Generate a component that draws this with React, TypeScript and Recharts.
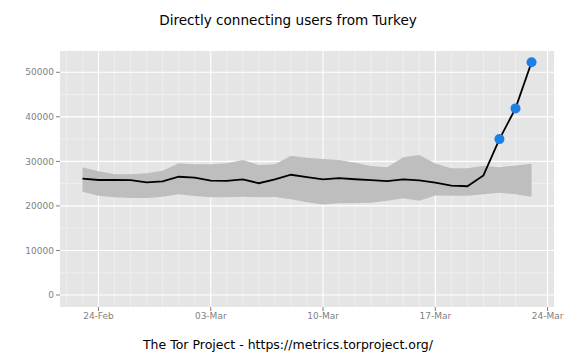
import { Area, CartesianGrid, ComposedChart, Line, XAxis, YAxis } from 'recharts';

// one entry per day, 23-Feb .. 23-Mar
const days = [
  '23-Feb', '24-Feb', '25-Feb', '26-Feb', '27-Feb', '28-Feb', '01-Mar', '02-Mar',
  '03-Mar', '04-Mar', '05-Mar', '06-Mar', '07-Mar', '08-Mar', '09-Mar', '10-Mar',
  '11-Mar', '12-Mar', '13-Mar', '14-Mar', '15-Mar', '16-Mar', '17-Mar', '18-Mar',
  '19-Mar', '20-Mar', '21-Mar', '22-Mar', '23-Mar',
];

const users = [
  26150, 25820, 25850, 25800, 25300, 25530, 26550, 26350,
  25660, 25620, 25950, 25100, 25950, 27000, 26450, 25970,
  26250, 25990, 25800, 25550, 25980, 25750, 25250, 24540,
  24420, 26850, 35000, 41900, 52250,
];

const lower = [
  23200, 22300, 21940, 21780, 21780, 22070, 22610, 22230,
  21940, 21940, 22070, 21940, 22000, 21490, 20800, 20300,
  20580, 20580, 20730, 21170, 21710, 21170, 22350, 22300,
  22300, 22600, 22970, 22600, 22070,
];

const upper = [
  28700, 27770, 27100, 27100, 27320, 27910, 29570, 29340,
  29340, 29570, 30300, 29190, 29340, 31280, 30830, 30530,
  30310, 29710, 28960, 28670, 30910, 31430, 29500, 28440,
  28440, 29000, 28700, 29100, 29450,
];

// days flagged as unusual
const flagged = ['21-Mar', '22-Mar', '23-Mar'];

const xTickLabels = ['24-Feb', '03-Mar', '10-Mar', '17-Mar', '24-Mar'];
const yTicks = [0, 10000, 20000, 30000, 40000, 50000];
const yMinor = [5000, 15000, 25000, 35000, 45000];

const data = days.map((d, i) => ({
  day: i,
  users: users[i],
  range: [lower[i], upper[i]],
  spike: flagged.includes(d) ? users[i] : null,
}));

// tick positions are day offsets from 23-Feb
const xTicks = xTickLabels.map((_, i) => 1 + i * 7);
const xMinor = Array.from({ length: 31 }, (_, i) => i - 1);

const font = '"DejaVu Sans", sans-serif';
const tickStyle = { fill: '#7f7f7f', fontSize: 9, fontFamily: font };

export default function App() {
  return (
    <div style={{ position: 'absolute', left: 0, top: 0, width: 576, height: 360, background: '#fff', fontFamily: font }}>
      <div style={{ position: 'absolute', top: 12, width: 576, textAlign: 'center', fontSize: 13.6, color: '#000' }}>
        Directly connecting users from Turkey
      </div>
      <ComposedChart width={576} height={360} data={data} margin={{ top: 51, right: 22, bottom: 28, left: 0 }}>
        <CartesianGrid
          fill="#e5e5e5"
          stroke="#f2f2f2"
          strokeWidth={0.7}
          horizontalValues={yMinor}
          verticalValues={xMinor}
        />
        <CartesianGrid stroke="#ffffff" strokeWidth={1.1} horizontalValues={yTicks} verticalValues={xTicks} />
        <XAxis
          dataKey="day"
          type="number"
          domain={[-1.4, 29.4]}
          ticks={xTicks}
          tickFormatter={(v: number) => xTickLabels[(v - 1) / 7]}
          allowDataOverflow
          height={25}
          axisLine={false}
          tickSize={4}
          tickMargin={2}
          tickLine={{ stroke: '#7f7f7f' }}
          tick={tickStyle}
        />
        <YAxis
          type="number"
          domain={[-2695, 54783]}
          ticks={yTicks}
          allowDataOverflow
          width={60}
          axisLine={false}
          tickSize={4}
          tickMargin={2}
          tickLine={{ stroke: '#7f7f7f' }}
          tick={tickStyle}
        />
        <Area
          type="linear"
          dataKey="range"
          fill="#bebebe"
          fillOpacity={1}
          stroke="none"
          isAnimationActive={false}
        />
        <Line
          dataKey="spike"
          stroke="none"
          dot={{ r: 5, fill: '#1e80e3', stroke: 'none' }}
          activeDot={false}
          isAnimationActive={false}
        />
        <Line
          type="linear"
          dataKey="users"
          stroke="#000"
          strokeWidth={1.8}
          dot={false}
          activeDot={false}
          isAnimationActive={false}
        />
      </ComposedChart>
      <div style={{ position: 'absolute', top: 337, width: 576, textAlign: 'center', fontSize: 12.5, color: '#000' }}>
        The Tor Project - https://metrics.torproject.org/
      </div>
    </div>
  );
}
